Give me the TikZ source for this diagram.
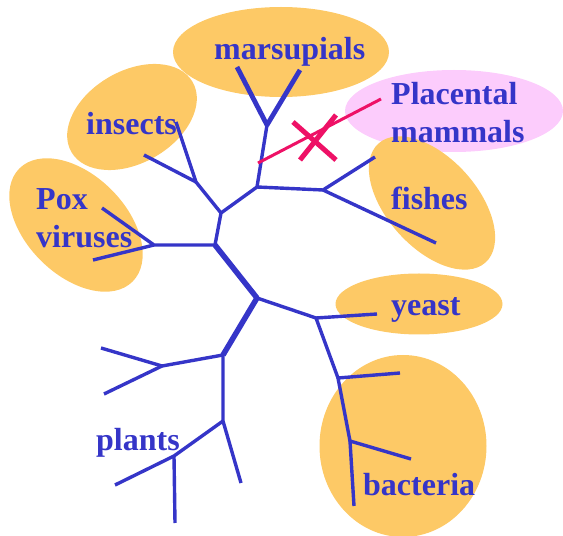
\documentclass[tikz,border=0pt]{standalone}
\usepackage{fontspec}
\setmainfont{Liberation Serif}
\usetikzlibrary{shapes.geometric}
\definecolor{treeblue}{HTML}{3535C8}
\definecolor{groupfill}{HTML}{FDC966}
\definecolor{pinkfill}{HTML}{FCCCFC}
\definecolor{crossred}{HTML}{EE1166}

\begin{document}
\begin{tikzpicture}[x=1pt, y=1pt,
    group/.style={ellipse, fill=groupfill, inner sep=0pt},
    twig/.style={line width=3.4pt, color=treeblue, line join=round},
    trunk/.style={line width=5.5pt, color=treeblue, line join=round},
    lost/.style={line width=3pt, color=crossred},
    taxon/.style={font=\fontsize{32}{38}\selectfont\bfseries, text=treeblue, inner sep=0pt, anchor=base west, align=left},
]
\useasboundingbox (0,0) rectangle (563,536);

% groups
\node[group, minimum width=216, minimum height=90] (marsGrp) at (281,484) {};
\node[group, fill=pinkfill, minimum width=218, minimum height=82] (placGrp) at (454,425) {};
\node[group, minimum width=140, minimum height=92, rotate=30] (insGrp) at (132,419) {};
\node[group, minimum width=160, minimum height=100, rotate=-45] (poxGrp) at (76,311) {};
\node[group, minimum width=160, minimum height=90, rotate=-48] (fishGrp) at (432,333) {};
\node[group, minimum width=167, minimum height=61] (yeastGrp) at (419,232) {};
\node[group, minimum width=167, minimum height=182] (bactGrp) at (403,90) {};

% tree
\coordinate (root) at (257,238);
\coordinate (nPox) at (215,291);
\coordinate (nIns) at (221,323);
\coordinate (nTop) at (257,349);
\coordinate (nMars) at (267,411);
\coordinate (marsL) at (237,469);
\coordinate (marsR) at (300,466);
\coordinate (nFish) at (323,346);
\coordinate (fishA) at (375,379);
\coordinate (fishB) at (436,293);
\coordinate (nIns2) at (196,354);
\coordinate (insA) at (176,414);
\coordinate (insB) at (144,381);
\coordinate (poxJ) at (154,291);
\coordinate (poxA) at (102,328);
\coordinate (poxB) at (93,276);
\coordinate (nYeast) at (316,218);
\coordinate (yeastT) at (377,222);
\coordinate (nBact) at (338,158);
\coordinate (bactA) at (400,163);
\coordinate (nBact2) at (350,95);
\coordinate (bactB) at (411,77);
\coordinate (bactC) at (354,30);
\coordinate (nPlant) at (223,181);
\coordinate (plJ) at (162,170);
\coordinate (plA) at (101,188);
\coordinate (plB) at (104,142);
\coordinate (nPlant2) at (223,115);
\coordinate (plC) at (241,53);
\coordinate (plJ2) at (174,80);
\coordinate (plD) at (115,51);
\coordinate (plE) at (175,13);

\draw[trunk] (nPox) -- (root) -- (nPlant);
\draw[twig] (nPox) -- (nIns) -- (nTop) -- (nMars);
\draw[twig, line width=4.8pt] (marsL) -- (nMars) -- (marsR);
\draw[twig] (nTop) -- (nFish) -- (fishA);
\draw[twig] (nFish) -- (fishB);
\draw[twig] (nIns) -- (nIns2) -- (insA);
\draw[twig] (nIns2) -- (insB);
\draw[twig] (nPox) -- (poxJ) -- (poxA);
\draw[twig] (poxJ) -- (poxB);
\draw[twig] (root) -- (nYeast) -- (yeastT);
\draw[twig] (nYeast) -- (nBact) -- (bactA);
\draw[twig] (nBact) -- (nBact2) -- (bactB);
\draw[twig] (nBact2) -- (bactC);
\draw[twig] (nPlant) -- (plJ) -- (plA);
\draw[twig] (plJ) -- (plB);
\draw[twig] (nPlant) -- (nPlant2) -- (plC);
\draw[twig] (nPlant2) -- (plJ2) -- (plD);
\draw[twig] (plJ2) -- (plE);

% extinct branch
\coordinate (placS) at (258,373);
\coordinate (placE) at (381,437);
\coordinate (crossA) at (293,414);
\coordinate (crossB) at (336,376);
\coordinate (crossC) at (336,421);
\coordinate (crossD) at (300,376);
\draw[lost] (placS) -- (placE);
\draw[lost, line width=5pt] (crossA) -- (crossB);
\draw[lost, line width=5pt] (crossC) -- (crossD);

% names
\node[taxon] (mars) at (214,476) {marsupials};
\node[taxon] (plac) at (391,393) {Placental\\mammals};
\node[taxon] (ins) at (86,401) {insects};
\node[taxon] (fish) at (391,326) {fishes};
\node[taxon] (pox) at (36,288) {Pox\\viruses};
\node[taxon] (yeast) at (391,220) {yeast};
\node[taxon] (plant) at (96,85) {plants};
\node[taxon] (bact) at (363,40) {bacteria};

\end{tikzpicture}
\end{document}
